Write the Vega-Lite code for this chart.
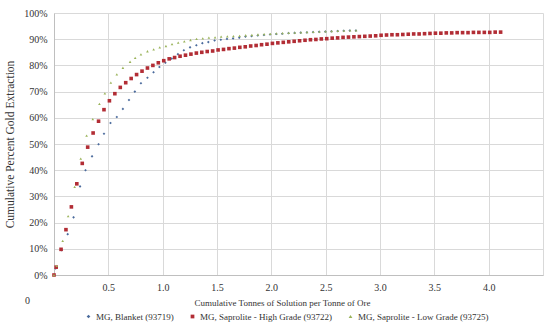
{
  "$schema": "https://vega.github.io/schema/vega-lite/v6.json",
  "width": 489,
  "height": 262,
  "autosize": {"type": "none"},
  "padding": {"left": 54, "top": 13, "right": 7, "bottom": 60},
  "background": "white",
  "config": {"font": "Liberation Serif", "view": {"stroke": null}},
  "data": {"values": [
    {"series":"MG, Blanket (93719)","x":0,"y":0},{"series":"MG, Blanket (93719)","x":0.015,"y":2.5},{"series":"MG, Blanket (93719)","x":0.07,"y":9.5},{"series":"MG, Blanket (93719)","x":0.126,"y":15.6},{"series":"MG, Blanket (93719)","x":0.18,"y":22},{"series":"MG, Blanket (93719)","x":0.24,"y":33.8},{"series":"MG, Blanket (93719)","x":0.29,"y":40},{"series":"MG, Blanket (93719)","x":0.35,"y":45.3},{"series":"MG, Blanket (93719)","x":0.41,"y":49.9},{"series":"MG, Blanket (93719)","x":0.46,"y":53.9},{"series":"MG, Blanket (93719)","x":0.52,"y":58},{"series":"MG, Blanket (93719)","x":0.578,"y":60.3},{"series":"MG, Blanket (93719)","x":0.634,"y":63.4},{"series":"MG, Blanket (93719)","x":0.69,"y":66.8},{"series":"MG, Blanket (93719)","x":0.744,"y":70},{"series":"MG, Blanket (93719)","x":0.80,"y":73.2},{"series":"MG, Blanket (93719)","x":0.86,"y":75.3},{"series":"MG, Blanket (93719)","x":0.916,"y":77.4},{"series":"MG, Blanket (93719)","x":0.97,"y":79.4},{"series":"MG, Blanket (93719)","x":1.025,"y":81},{"series":"MG, Blanket (93719)","x":1.083,"y":82.6},{"series":"MG, Blanket (93719)","x":1.14,"y":84.3},{"series":"MG, Blanket (93719)","x":1.195,"y":85.8},{"series":"MG, Blanket (93719)","x":1.252,"y":86.9},{"series":"MG, Blanket (93719)","x":1.31,"y":87.7},{"series":"MG, Blanket (93719)","x":1.365,"y":88.5},{"series":"MG, Blanket (93719)","x":1.42,"y":88.9},{"series":"MG, Blanket (93719)","x":1.478,"y":89.5},{"series":"MG, Blanket (93719)","x":1.535,"y":89.8},{"series":"MG, Blanket (93719)","x":1.592,"y":90.1},{"series":"MG, Blanket (93719)","x":1.648,"y":90.3},{"series":"MG, Blanket (93719)","x":1.705,"y":90.6},{"series":"MG, Blanket (93719)","x":1.762,"y":91},{"series":"MG, Blanket (93719)","x":1.818,"y":91.2},{"series":"MG, Blanket (93719)","x":1.875,"y":91.4},{"series":"MG, Blanket (93719)","x":1.932,"y":91.6},{"series":"MG, Blanket (93719)","x":1.988,"y":91.8},{"series":"MG, Blanket (93719)","x":2.045,"y":92},{"series":"MG, Blanket (93719)","x":2.1,"y":92.1},{"series":"MG, Blanket (93719)","x":2.158,"y":92.3},{"series":"MG, Blanket (93719)","x":2.214,"y":92.4},{"series":"MG, Blanket (93719)","x":2.27,"y":92.5},{"series":"MG, Blanket (93719)","x":2.327,"y":92.6},{"series":"MG, Blanket (93719)","x":2.384,"y":92.7},{"series":"MG, Blanket (93719)","x":2.44,"y":92.8},{"series":"MG, Blanket (93719)","x":2.497,"y":92.9},{"series":"MG, Blanket (93719)","x":2.553,"y":93},{"series":"MG, Blanket (93719)","x":2.61,"y":93.1},{"series":"MG, Blanket (93719)","x":2.666,"y":93.2},{"series":"MG, Blanket (93719)","x":2.722,"y":93.3},{"series":"MG, Blanket (93719)","x":2.778,"y":93.3},
    {"series":"MG, Saprolite - High Grade (93722)","x":0,"y":0},{"series":"MG, Saprolite - High Grade (93722)","x":0.02,"y":3},{"series":"MG, Saprolite - High Grade (93722)","x":0.065,"y":9.8},{"series":"MG, Saprolite - High Grade (93722)","x":0.11,"y":17.3},{"series":"MG, Saprolite - High Grade (93722)","x":0.16,"y":26},{"series":"MG, Saprolite - High Grade (93722)","x":0.21,"y":34.8},{"series":"MG, Saprolite - High Grade (93722)","x":0.26,"y":42.6},{"series":"MG, Saprolite - High Grade (93722)","x":0.31,"y":48.8},{"series":"MG, Saprolite - High Grade (93722)","x":0.36,"y":54.2},{"series":"MG, Saprolite - High Grade (93722)","x":0.41,"y":58.7},{"series":"MG, Saprolite - High Grade (93722)","x":0.46,"y":63.1},{"series":"MG, Saprolite - High Grade (93722)","x":0.51,"y":66.5},{"series":"MG, Saprolite - High Grade (93722)","x":0.56,"y":69.2},{"series":"MG, Saprolite - High Grade (93722)","x":0.61,"y":71.6},{"series":"MG, Saprolite - High Grade (93722)","x":0.66,"y":73.4},{"series":"MG, Saprolite - High Grade (93722)","x":0.71,"y":75},{"series":"MG, Saprolite - High Grade (93722)","x":0.76,"y":76.5},{"series":"MG, Saprolite - High Grade (93722)","x":0.81,"y":77.8},{"series":"MG, Saprolite - High Grade (93722)","x":0.86,"y":79},{"series":"MG, Saprolite - High Grade (93722)","x":0.91,"y":80},{"series":"MG, Saprolite - High Grade (93722)","x":0.96,"y":81},{"series":"MG, Saprolite - High Grade (93722)","x":1.01,"y":81.8},{"series":"MG, Saprolite - High Grade (93722)","x":1.06,"y":82.5},{"series":"MG, Saprolite - High Grade (93722)","x":1.11,"y":83},{"series":"MG, Saprolite - High Grade (93722)","x":1.16,"y":83.5},{"series":"MG, Saprolite - High Grade (93722)","x":1.21,"y":83.9},{"series":"MG, Saprolite - High Grade (93722)","x":1.26,"y":84.3},{"series":"MG, Saprolite - High Grade (93722)","x":1.31,"y":84.7},{"series":"MG, Saprolite - High Grade (93722)","x":1.36,"y":85},{"series":"MG, Saprolite - High Grade (93722)","x":1.41,"y":85.3},{"series":"MG, Saprolite - High Grade (93722)","x":1.46,"y":85.5},{"series":"MG, Saprolite - High Grade (93722)","x":1.51,"y":85.9},{"series":"MG, Saprolite - High Grade (93722)","x":1.56,"y":86.1},{"series":"MG, Saprolite - High Grade (93722)","x":1.61,"y":86.4},{"series":"MG, Saprolite - High Grade (93722)","x":1.66,"y":86.6},{"series":"MG, Saprolite - High Grade (93722)","x":1.71,"y":86.9},{"series":"MG, Saprolite - High Grade (93722)","x":1.76,"y":87.1},{"series":"MG, Saprolite - High Grade (93722)","x":1.81,"y":87.4},{"series":"MG, Saprolite - High Grade (93722)","x":1.86,"y":87.6},{"series":"MG, Saprolite - High Grade (93722)","x":1.91,"y":87.9},{"series":"MG, Saprolite - High Grade (93722)","x":1.96,"y":88.1},{"series":"MG, Saprolite - High Grade (93722)","x":2.01,"y":88.4},{"series":"MG, Saprolite - High Grade (93722)","x":2.06,"y":88.6},{"series":"MG, Saprolite - High Grade (93722)","x":2.11,"y":88.8},{"series":"MG, Saprolite - High Grade (93722)","x":2.16,"y":89},{"series":"MG, Saprolite - High Grade (93722)","x":2.21,"y":89.2},{"series":"MG, Saprolite - High Grade (93722)","x":2.26,"y":89.4},{"series":"MG, Saprolite - High Grade (93722)","x":2.31,"y":89.6},{"series":"MG, Saprolite - High Grade (93722)","x":2.36,"y":89.8},{"series":"MG, Saprolite - High Grade (93722)","x":2.41,"y":89.9},{"series":"MG, Saprolite - High Grade (93722)","x":2.46,"y":90.1},{"series":"MG, Saprolite - High Grade (93722)","x":2.51,"y":90.2},{"series":"MG, Saprolite - High Grade (93722)","x":2.56,"y":90.4},{"series":"MG, Saprolite - High Grade (93722)","x":2.61,"y":90.5},{"series":"MG, Saprolite - High Grade (93722)","x":2.66,"y":90.7},{"series":"MG, Saprolite - High Grade (93722)","x":2.71,"y":90.8},{"series":"MG, Saprolite - High Grade (93722)","x":2.76,"y":90.9},{"series":"MG, Saprolite - High Grade (93722)","x":2.81,"y":91},{"series":"MG, Saprolite - High Grade (93722)","x":2.86,"y":91.1},{"series":"MG, Saprolite - High Grade (93722)","x":2.91,"y":91.2},{"series":"MG, Saprolite - High Grade (93722)","x":2.96,"y":91.3},{"series":"MG, Saprolite - High Grade (93722)","x":3.01,"y":91.5},{"series":"MG, Saprolite - High Grade (93722)","x":3.06,"y":91.6},{"series":"MG, Saprolite - High Grade (93722)","x":3.11,"y":91.7},{"series":"MG, Saprolite - High Grade (93722)","x":3.16,"y":91.7},{"series":"MG, Saprolite - High Grade (93722)","x":3.21,"y":91.8},{"series":"MG, Saprolite - High Grade (93722)","x":3.26,"y":91.9},{"series":"MG, Saprolite - High Grade (93722)","x":3.31,"y":92},{"series":"MG, Saprolite - High Grade (93722)","x":3.36,"y":92},{"series":"MG, Saprolite - High Grade (93722)","x":3.41,"y":92.1},{"series":"MG, Saprolite - High Grade (93722)","x":3.46,"y":92.2},{"series":"MG, Saprolite - High Grade (93722)","x":3.51,"y":92.3},{"series":"MG, Saprolite - High Grade (93722)","x":3.56,"y":92.3},{"series":"MG, Saprolite - High Grade (93722)","x":3.61,"y":92.4},{"series":"MG, Saprolite - High Grade (93722)","x":3.66,"y":92.4},{"series":"MG, Saprolite - High Grade (93722)","x":3.71,"y":92.5},{"series":"MG, Saprolite - High Grade (93722)","x":3.76,"y":92.5},{"series":"MG, Saprolite - High Grade (93722)","x":3.81,"y":92.5},{"series":"MG, Saprolite - High Grade (93722)","x":3.86,"y":92.6},{"series":"MG, Saprolite - High Grade (93722)","x":3.91,"y":92.6},{"series":"MG, Saprolite - High Grade (93722)","x":3.96,"y":92.6},{"series":"MG, Saprolite - High Grade (93722)","x":4.01,"y":92.6},{"series":"MG, Saprolite - High Grade (93722)","x":4.06,"y":92.7},{"series":"MG, Saprolite - High Grade (93722)","x":4.11,"y":92.7},
    {"series":"MG, Saprolite - Low Grade (93725)","x":0,"y":0},{"series":"MG, Saprolite - Low Grade (93725)","x":0.025,"y":3.5},{"series":"MG, Saprolite - Low Grade (93725)","x":0.08,"y":13},{"series":"MG, Saprolite - Low Grade (93725)","x":0.13,"y":22.5},{"series":"MG, Saprolite - Low Grade (93725)","x":0.19,"y":33.6},{"series":"MG, Saprolite - Low Grade (93725)","x":0.246,"y":44.4},{"series":"MG, Saprolite - Low Grade (93725)","x":0.30,"y":53.2},{"series":"MG, Saprolite - Low Grade (93725)","x":0.357,"y":59.5},{"series":"MG, Saprolite - Low Grade (93725)","x":0.418,"y":65.3},{"series":"MG, Saprolite - Low Grade (93725)","x":0.468,"y":69.3},{"series":"MG, Saprolite - Low Grade (93725)","x":0.523,"y":73.4},{"series":"MG, Saprolite - Low Grade (93725)","x":0.578,"y":76.6},{"series":"MG, Saprolite - Low Grade (93725)","x":0.634,"y":79.1},{"series":"MG, Saprolite - Low Grade (93725)","x":0.70,"y":81.4},{"series":"MG, Saprolite - Low Grade (93725)","x":0.747,"y":82.9},{"series":"MG, Saprolite - Low Grade (93725)","x":0.80,"y":84.2},{"series":"MG, Saprolite - Low Grade (93725)","x":0.86,"y":85.4},{"series":"MG, Saprolite - Low Grade (93725)","x":0.917,"y":86.1},{"series":"MG, Saprolite - Low Grade (93725)","x":0.973,"y":86.9},{"series":"MG, Saprolite - Low Grade (93725)","x":1.03,"y":87.4},{"series":"MG, Saprolite - Low Grade (93725)","x":1.086,"y":88.1},{"series":"MG, Saprolite - Low Grade (93725)","x":1.143,"y":88.7},{"series":"MG, Saprolite - Low Grade (93725)","x":1.199,"y":89.2},{"series":"MG, Saprolite - Low Grade (93725)","x":1.256,"y":89.7},{"series":"MG, Saprolite - Low Grade (93725)","x":1.312,"y":90.1},{"series":"MG, Saprolite - Low Grade (93725)","x":1.369,"y":90.3},{"series":"MG, Saprolite - Low Grade (93725)","x":1.425,"y":90.6},{"series":"MG, Saprolite - Low Grade (93725)","x":1.482,"y":90.7},{"series":"MG, Saprolite - Low Grade (93725)","x":1.538,"y":91},{"series":"MG, Saprolite - Low Grade (93725)","x":1.595,"y":91.1},{"series":"MG, Saprolite - Low Grade (93725)","x":1.651,"y":91.2},{"series":"MG, Saprolite - Low Grade (93725)","x":1.708,"y":91.3},{"series":"MG, Saprolite - Low Grade (93725)","x":1.764,"y":91.5},{"series":"MG, Saprolite - Low Grade (93725)","x":1.821,"y":91.6},{"series":"MG, Saprolite - Low Grade (93725)","x":1.877,"y":91.8},{"series":"MG, Saprolite - Low Grade (93725)","x":1.934,"y":91.9},{"series":"MG, Saprolite - Low Grade (93725)","x":1.99,"y":92},{"series":"MG, Saprolite - Low Grade (93725)","x":2.047,"y":92.2},{"series":"MG, Saprolite - Low Grade (93725)","x":2.103,"y":92.3},{"series":"MG, Saprolite - Low Grade (93725)","x":2.16,"y":92.4},{"series":"MG, Saprolite - Low Grade (93725)","x":2.216,"y":92.5},{"series":"MG, Saprolite - Low Grade (93725)","x":2.273,"y":92.6},{"series":"MG, Saprolite - Low Grade (93725)","x":2.329,"y":92.7},{"series":"MG, Saprolite - Low Grade (93725)","x":2.386,"y":92.8},{"series":"MG, Saprolite - Low Grade (93725)","x":2.442,"y":92.9},{"series":"MG, Saprolite - Low Grade (93725)","x":2.499,"y":93},{"series":"MG, Saprolite - Low Grade (93725)","x":2.555,"y":93.1},{"series":"MG, Saprolite - Low Grade (93725)","x":2.612,"y":93.2},{"series":"MG, Saprolite - Low Grade (93725)","x":2.668,"y":93.3},{"series":"MG, Saprolite - Low Grade (93725)","x":2.725,"y":93.4},{"series":"MG, Saprolite - Low Grade (93725)","x":2.78,"y":93.4}
  ]},
  "encoding": {
    "x": {
      "field": "x", "type": "quantitative",
      "scale": {"domain": [0, 4.5], "nice": false},
      "axis": {
        "values": [0, 0.5, 1, 1.5, 2, 2.5, 3, 3.5, 4, 4.5],
        "title": "Cumulative Tonnes of Solution per Tonne of Ore",
        "labelExpr": "datum.value == 4.5 ? '' : datum.value == 0 ? '0' : format(datum.value, '.1f')",
        "labelOffset": {"condition": {"test": "datum.value == 0", "value": -27}, "value": 0},
        "labelPadding": {"condition": {"test": "datum.value == 0", "value": 20}, "value": 7},
        "grid": true, "gridColor": "#d9d9d9", "domainColor": "#bfbfbf", "tickSize": 0,
        "labelFontSize": 10, "labelColor": "#333333", "labelFlush": false,
        "titleFontSize": 9, "titleFontWeight": "normal", "titleColor": "#333333",
        "titleX": 228, "titleY": 27, "titleBaseline": "middle", "titleAlign": "center", "titleAnchor": "start"
      }
    },
    "y": {
      "field": "y", "type": "quantitative",
      "scale": {"domain": [0, 100], "nice": false},
      "axis": {
        "values": [0, 10, 20, 30, 40, 50, 60, 70, 80, 90, 100],
        "title": "Cumulative Percent Gold Extraction",
        "labelExpr": "datum.value + '%'",
        "grid": true, "gridColor": "#d9d9d9", "domainColor": "#bfbfbf", "tickSize": 0,
        "labelPadding": 7, "labelFontSize": 10, "labelColor": "#333333",
        "titleFontSize": 11.5, "titleFontWeight": "normal", "titleColor": "#333333",
        "titleX": -44, "titleY": 131, "titleBaseline": "middle", "titleAlign": "center"
      }
    },
    "color": {
      "field": "series", "type": "nominal",
      "scale": {"domain": ["MG, Blanket (93719)", "MG, Saprolite - High Grade (93722)", "MG, Saprolite - Low Grade (93725)"], "range": ["#4A6A9C", "#B22D35", "#9AB35A"]},
      "legend": {"title": null, "orient": "none", "legendX": 30, "legendY": 299, "direction": "horizontal", "columns": 3, "columnPadding": 14, "gridAlign": "none", "labelFontSize": 9, "labelColor": "#333333", "symbolSize": 14, "labelOffset": 3}
    },
    "shape": {
      "field": "series", "type": "nominal",
      "scale": {"domain": ["MG, Blanket (93719)", "MG, Saprolite - High Grade (93722)", "MG, Saprolite - Low Grade (93725)"], "range": ["diamond", "square", "triangle-up"]}
    }
  },
  "layer": [
    {
      "transform": [{"filter": "datum.series == 'MG, Blanket (93719)'"}],
      "mark": {"type": "point", "filled": true, "opacity": 1, "size": 7}
    },
    {
      "transform": [{"filter": "datum.series == 'MG, Saprolite - High Grade (93722)'"}],
      "mark": {"type": "point", "filled": true, "opacity": 1, "size": 13}
    },
    {
      "transform": [{"filter": "datum.series == 'MG, Saprolite - Low Grade (93725)'"}],
      "mark": {"type": "point", "filled": true, "opacity": 1, "size": 7}
    }
  ]
}
